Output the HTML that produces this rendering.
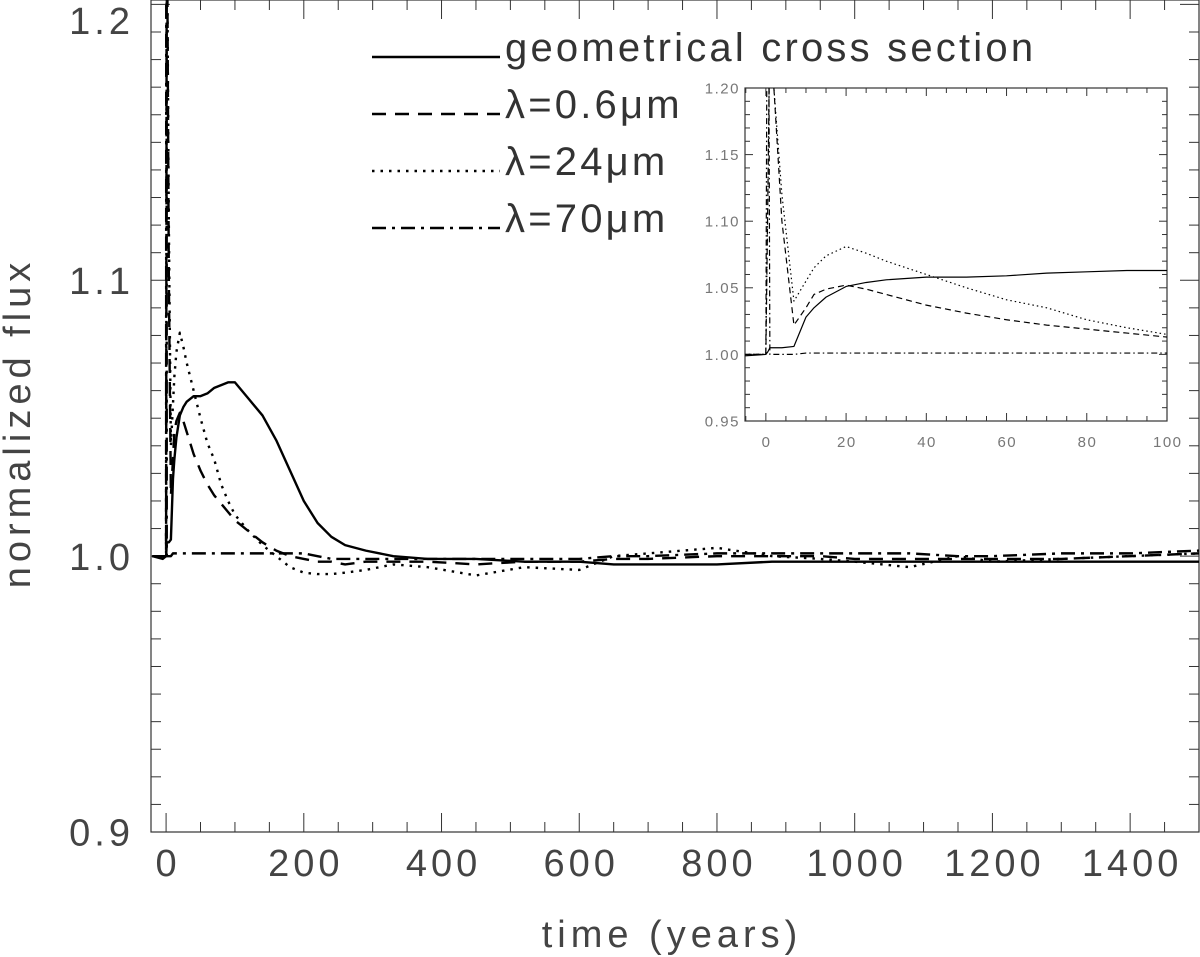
<!DOCTYPE html>
<html><head><meta charset="utf-8"><style>
html,body{margin:0;padding:0;background:#fff;}
svg{display:block;font-family:"Liberation Sans",sans-serif;}
</style></head><body>
<svg id="chart" width="1200" height="957" viewBox="0 0 1200 957">
<defs>
<clipPath id="mainClip"><rect x="151" y="0" width="1049" height="832"/></clipPath>
<clipPath id="insetClip"><rect x="745" y="88" width="422" height="333"/></clipPath>
</defs>
<g id="main-axes"></g>
<g id="main-lines" clip-path="url(#mainClip)"></g>
<rect x="745" y="88" width="422" height="333" fill="#fff"/>
<g id="inset-axes"></g>
<g id="inset-lines" clip-path="url(#insetClip)"></g>
<g id="legend"></g>
<text x="30" y="423" transform="rotate(-90 30 423)" text-anchor="middle" font-size="38" letter-spacing="5" fill="#444">normalized flux</text>
<text x="672" y="947" text-anchor="middle" font-size="38" letter-spacing="5" fill="#444">time (years)</text>
</svg>
<script>
const times = [-20,-5,0,0.5,1,2,4,7,10,12,15,20,25,30,40,50,60,70,80,90,100,110,120,140,160,180,200,220,240,260,290,330,380,450,520,600,650,700,800,880,950,1000,1080,1150,1200,1300,1400,1500];
const geomValues = [1.0,0.999,1.0,1.002,1.005,1.005,1.005,1.006,1.028,1.035,1.043,1.051,1.054,1.056,1.058,1.058,1.059,1.061,1.062,1.063,1.063,1.060,1.057,1.051,1.042,1.031,1.020,1.012,1.007,1.004,1.002,1.0,0.999,0.999,0.998,0.998,0.997,0.997,0.997,0.998,0.998,0.998,0.998,0.998,0.998,0.998,0.998,0.998];
const v06Values = [1.0,1.0,1.0,1.12,1.25,1.2,1.1,1.022,1.035,1.045,1.049,1.052,1.049,1.045,1.037,1.031,1.026,1.022,1.019,1.016,1.013,1.011,1.009,1.005,1.002,1.0,0.999,0.998,0.998,0.997,0.998,0.998,0.998,0.997,0.998,0.998,0.999,0.999,1.0,1.0,1.0,0.999,0.999,0.999,0.999,0.999,1.0,1.001];
const v24Values = [1.0,1.0,1.0,1.12,1.25,1.2,1.12,1.04,1.055,1.065,1.074,1.081,1.076,1.07,1.06,1.05,1.041,1.035,1.026,1.02,1.015,1.012,1.009,1.004,1.0,0.996,0.994,0.9935,0.9935,0.994,0.995,0.997,0.996,0.993,0.996,0.995,1.0,1.001,1.003,1.0,0.999,0.998,0.996,1.0,0.998,0.999,1.0,1.001];
const v70Values = [1.0,1.0,1.0,1.45,1.0,1.0,1.0,1.0,1.001,1.001,1.001,1.001,1.001,1.001,1.001,1.001,1.001,1.001,1.001,1.001,1.001,1.001,1.001,1.001,1.001,1.001,1.001,1.0,0.999,0.999,0.999,0.999,0.999,0.999,0.999,0.999,1.0,1.0,1.001,1.001,1.001,1.001,1.001,1.0,1.0,1.001,1.001,1.002];
const seriesNames = ["geometrical cross section","λ=0.6μm","λ=24μm","λ=70μm"];
const mainXTicks = [0,200,400,600,800,1000,1200,1400];
const mainYTicks = [0.9,1.0,1.1,1.2];
const mainYLabels = ["0.9","1.0","1.1","1.2"];
const insetXTicks = [0,20,40,60,80,100];
const insetYTicks = [0.95,1.00,1.05,1.10,1.15,1.20];
const insetYLabels = ["0.95","1.00","1.05","1.10","1.15","1.20"];

const NS="http://www.w3.org/2000/svg";
function mk(parent,tag,attrs){const e=document.createElementNS(NS,tag);for(const k in attrs)e.setAttribute(k,attrs[k]);parent.appendChild(e);return e;}

const M={x0:151,x1:1199,y0:0,y1:832,tmin:-21.9,tmax:1500,vmin:0.9,vmax:1.2016};
const I={x0:745,x1:1167,y0:88,y1:421,tmin:-5.2,tmax:100,vmin:0.95,vmax:1.2};
function sx(A,t){return A.x0+(t-A.tmin)/(A.tmax-A.tmin)*(A.x1-A.x0);}
function sy(A,v){return A.y1-(v-A.vmin)/(A.vmax-A.vmin)*(A.y1-A.y0);}

const styles=[
 {main:"",inset:""},
 {main:"14 9",inset:"6 4"},
 {main:"2.5 6",inset:"1.5 3"},
 {main:"14 6 3 6",inset:"6 3 1.5 3"}];
const allVals=[geomValues,v06Values,v24Values,v70Values];
const lineNames=['geometrical-line','lambda-0.6-line','lambda-24-line','lambda-70-line'];

function drawAxes(A,g,xt,yt,yl,xMinor,yMinor,fs,ls,majL,minL,col,xlabY,ylabX,minLabY){
  const f=mk(g,'rect',{x:A.x0,y:A.y0,width:A.x1-A.x0,height:A.y1-A.y0,fill:'none',stroke:'#333','stroke-width':1.2});
  
  
  for(let t=Math.ceil(A.tmin/xMinor)*xMinor;t<=A.tmax+1e-9;t+=xMinor){
    const major=xt.some(v=>Math.abs(v-t)<1e-6); const L=major?majL:minL; const x=sx(A,t);
    mk(g,'line',{x1:x,x2:x,y1:A.y1,y2:A.y1-L,stroke:'#333','stroke-width':1});
    mk(g,'line',{x1:x,x2:x,y1:A.y0,y2:A.y0+L,stroke:'#333','stroke-width':1});
  }
  for(let k=Math.round(A.vmin/yMinor);k*yMinor<=A.vmax+1e-9;k++){
    const v=k*yMinor; const major=yt.some(u=>Math.abs(u-v)<1e-6); const L=major?majL:minL; const y=sy(A,v);
    mk(g,'line',{x1:A.x0,x2:A.x0+L,y1:y,y2:y,stroke:'#333','stroke-width':1});
    mk(g,'line',{x1:A.x1,x2:A.x1-L,y1:y,y2:y,stroke:'#333','stroke-width':1});
  }
  xt.forEach(t=>{const e=mk(g,'text',{x:sx(A,t)+ls/2,y:xlabY,'text-anchor':'middle','font-size':fs,'letter-spacing':ls,fill:col});e.textContent=t;
    
    });
  yt.forEach((v,i)=>{const yy=Math.max(sy(A,v)+fs*0.36,minLabY);const e=mk(g,'text',{x:ylabX,y:yy,'text-anchor':'end','font-size':fs,'letter-spacing':ls,fill:col});e.textContent=yl[i];
    
    });
}
drawAxes(M,document.getElementById('main-axes'),mainXTicks,mainYTicks,mainYLabels,50,0.01,38,4,19,10,'#444',876,134,34);
drawAxes(I,document.getElementById('inset-axes'),insetXTicks,insetYTicks,insetYLabels,5,0.01,15,1.5,8,5,'#777',447,740,0);

function drawLines(A,g,w,key,maxT){
  allVals.forEach((vals,i)=>{
    let d='';
    times.forEach((t,j)=>{if(t<=maxT){d+=(d?'L':'M')+sx(A,t).toFixed(2)+','+sy(A,vals[j]).toFixed(2);}});
    const p=mk(g,'path',{d:d,fill:'none',stroke:'#000','stroke-width':w,'stroke-dasharray':styles[i][key]||'none','stroke-linejoin':'round'});
    
    
  });
}
drawLines(M,document.getElementById('main-lines'),2.4,'main',1e9);
drawLines(I,document.getElementById('inset-lines'),1.2,'inset',110);

const lg=document.getElementById('legend');
const legY=[57,114,171,228];
seriesNames.forEach((n,i)=>{
  const l=mk(lg,'line',{x1:372,x2:500,y1:legY[i],y2:legY[i],stroke:'#000','stroke-width':2.4,'stroke-dasharray':styles[i].main||'none'});
  
  
  const t=mk(lg,'text',{x:505,y:legY[i]+4,'font-size':40,'letter-spacing':3.2,fill:'#333'});
  t.textContent=n;
  
  
});
</script>
</body></html>
